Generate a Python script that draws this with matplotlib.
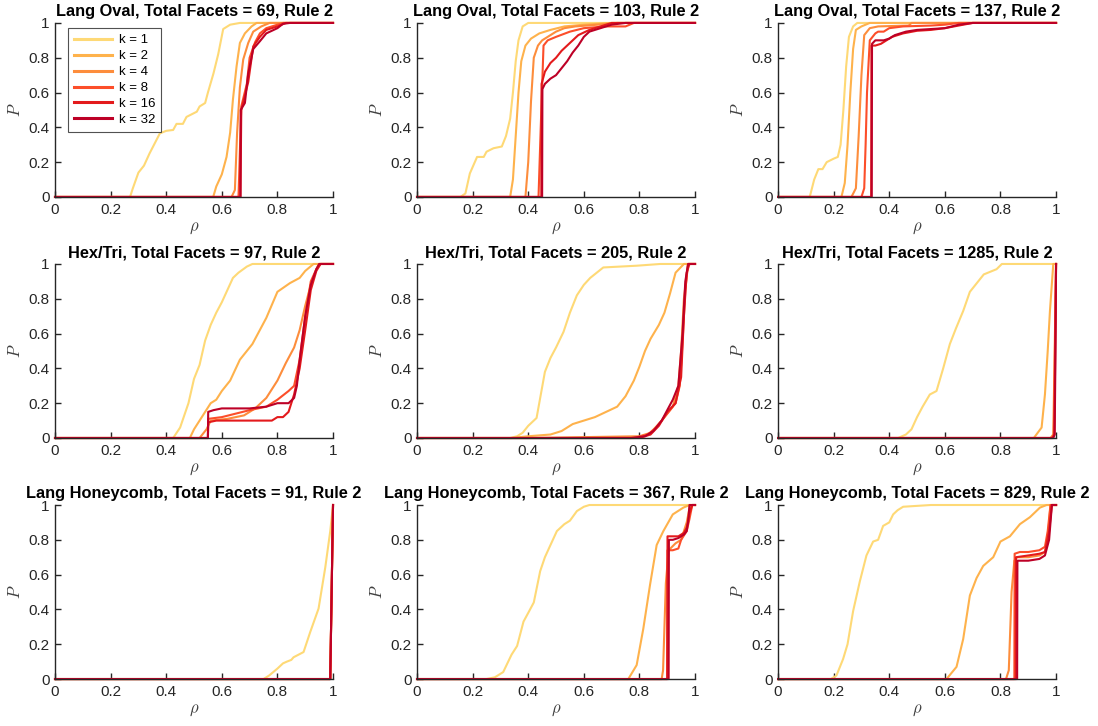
import matplotlib
matplotlib.use("Agg")
import matplotlib.pyplot as plt

plt.rcParams['font.family'] = ['Liberation Sans', 'DejaVu Sans']
plt.rcParams['mathtext.fontset'] = 'cm'

k_values = [1, 2, 4, 8, 16, 32]
colors = ['#fed976', '#feb24c', '#fd8d3c', '#fc4e2a', '#e31a1c', '#bd0026']

titles = [
    'Lang Oval, Total Facets = 69, Rule 2',
    'Lang Oval, Total Facets = 103, Rule 2',
    'Lang Oval, Total Facets = 137, Rule 2',
    'Hex/Tri, Total Facets = 97, Rule 2',
    'Hex/Tri, Total Facets = 205, Rule 2',
    'Hex/Tri, Total Facets = 1285, Rule 2',
    'Lang Honeycomb, Total Facets = 91, Rule 2',
    'Lang Honeycomb, Total Facets = 367, Rule 2',
    'Lang Honeycomb, Total Facets = 829, Rule 2',
]

# each panel: one (rho, P) pair per k, in the order of k_values
oval_69 = [
    ([0.27, 0.28, 0.30, 0.32, 0.34, 0.377, 0.40, 0.425, 0.437, 0.46, 0.473, 0.51, 0.52, 0.54, 0.55, 0.57, 0.587, 0.605, 0.63, 0.665],
     [0, 0.05, 0.14, 0.18, 0.25, 0.365, 0.38, 0.385, 0.42, 0.42, 0.46, 0.49, 0.52, 0.54, 0.60, 0.71, 0.82, 0.965, 0.99, 1.0]),
    ([0.569, 0.58, 0.60, 0.617, 0.63, 0.64, 0.653, 0.665, 0.683, 0.707, 0.725],
     [0, 0.06, 0.13, 0.23, 0.37, 0.56, 0.75, 0.885, 0.94, 0.98, 1.0]),
    ([0.635, 0.647, 0.655, 0.665, 0.677, 0.695, 0.713, 0.742, 0.772],
     [0, 0.04, 0.37, 0.63, 0.79, 0.885, 0.95, 0.98, 1.0]),
    ([0.66, 0.67, 0.69, 0.70, 0.72, 0.737, 0.76, 0.80, 0.82],
     [0, 0.52, 0.65, 0.80, 0.89, 0.94, 0.97, 0.99, 1.0]),
    ([0.667, 0.67, 0.695, 0.713, 0.737, 0.76, 0.80, 0.83],
     [0, 0.50, 0.66, 0.865, 0.92, 0.96, 0.98, 1.0]),
    ([0.667, 0.668, 0.683, 0.695, 0.713, 0.737, 0.76, 0.80, 0.82, 0.845],
     [0, 0.50, 0.54, 0.71, 0.85, 0.895, 0.94, 0.97, 0.995, 1.0]),
]

oval_103 = [
    ([0.156, 0.174, 0.19, 0.216, 0.24, 0.25, 0.275, 0.305, 0.32, 0.335, 0.345, 0.355, 0.365, 0.38, 0.40],
     [0, 0.02, 0.135, 0.23, 0.23, 0.26, 0.28, 0.29, 0.35, 0.45, 0.60, 0.78, 0.90, 0.98, 1.0]),
    ([0.335, 0.345, 0.355, 0.365, 0.375, 0.39, 0.41, 0.44, 0.48, 0.53, 0.60, 0.70],
     [0, 0.10, 0.35, 0.60, 0.78, 0.87, 0.91, 0.94, 0.96, 0.98, 0.99, 1.0]),
    ([0.39, 0.40, 0.41, 0.42, 0.435, 0.45, 0.48, 0.50, 0.53, 0.57, 0.65, 0.72],
     [0, 0.20, 0.55, 0.80, 0.87, 0.90, 0.93, 0.95, 0.97, 0.98, 0.99, 1.0]),
    ([0.437, 0.445, 0.455, 0.47, 0.50, 0.55, 0.60, 0.68, 0.75, 0.78],
     [0, 0.40, 0.87, 0.90, 0.92, 0.95, 0.97, 0.98, 0.98, 1.0]),
    ([0.447, 0.448, 0.46, 0.48, 0.50, 0.52, 0.54, 0.56, 0.58, 0.62, 0.66, 0.70],
     [0, 0.65, 0.72, 0.77, 0.80, 0.84, 0.87, 0.90, 0.93, 0.96, 0.98, 1.0]),
    ([0.45, 0.451, 0.46, 0.48, 0.50, 0.52, 0.54, 0.56, 0.58, 0.60, 0.62, 0.66, 0.70, 0.75],
     [0, 0.62, 0.65, 0.68, 0.70, 0.74, 0.78, 0.83, 0.87, 0.92, 0.95, 0.97, 0.99, 1.0]),
]

oval_137 = [
    ([0.114, 0.13, 0.145, 0.16, 0.175, 0.20, 0.215, 0.225, 0.235, 0.245, 0.255, 0.27, 0.285],
     [0, 0.10, 0.16, 0.16, 0.20, 0.22, 0.23, 0.30, 0.50, 0.75, 0.92, 0.98, 1.0]),
    ([0.228, 0.24, 0.25, 0.26, 0.27, 0.28, 0.30, 0.33],
     [0, 0.08, 0.30, 0.60, 0.85, 0.96, 0.98, 1.0]),
    ([0.264, 0.28, 0.29, 0.30, 0.31, 0.33, 0.36, 0.47, 0.48],
     [0, 0.05, 0.35, 0.70, 0.93, 0.97, 0.98, 0.985, 1.0]),
    ([0.30, 0.31, 0.315, 0.32, 0.33, 0.35, 0.36, 0.38, 0.40, 0.45, 0.55, 0.60, 0.65],
     [0, 0.05, 0.30, 0.60, 0.90, 0.94, 0.95, 0.95, 0.97, 0.98, 0.985, 0.99, 1.0]),
    ([0.335, 0.336, 0.35, 0.37, 0.39, 0.41, 0.45, 0.50, 0.55, 0.60, 0.65, 0.70],
     [0, 0.87, 0.87, 0.88, 0.90, 0.92, 0.94, 0.955, 0.96, 0.97, 0.985, 1.0]),
    ([0.337, 0.338, 0.35, 0.38, 0.40, 0.42, 0.46, 0.50, 0.55, 0.60, 0.65, 0.70],
     [0, 0.88, 0.90, 0.90, 0.91, 0.93, 0.95, 0.96, 0.965, 0.97, 0.99, 1.0]),
]

hextri_97 = [
    ([0.425, 0.45, 0.48, 0.50, 0.52, 0.54, 0.56, 0.58, 0.60, 0.62, 0.64, 0.66, 0.69, 0.71],
     [0, 0.06, 0.20, 0.34, 0.42, 0.56, 0.65, 0.72, 0.78, 0.85, 0.92, 0.95, 0.985, 1.0]),
    ([0.485, 0.50, 0.52, 0.54, 0.56, 0.58, 0.60, 0.63, 0.665, 0.71, 0.76, 0.80, 0.845, 0.88, 0.90, 0.93],
     [0, 0.05, 0.10, 0.15, 0.20, 0.22, 0.27, 0.33, 0.45, 0.54, 0.69, 0.84, 0.89, 0.92, 0.96, 1.0]),
    ([0.52, 0.545, 0.56, 0.62, 0.68, 0.72, 0.76, 0.80, 0.83, 0.86, 0.88, 0.90, 0.92, 0.94, 0.95],
     [0, 0.05, 0.10, 0.11, 0.13, 0.17, 0.23, 0.33, 0.43, 0.52, 0.62, 0.76, 0.88, 0.97, 1.0]),
    ([0.55, 0.551, 0.60, 0.70, 0.76, 0.80, 0.84, 0.86, 0.88, 0.90, 0.92, 0.94, 0.955],
     [0, 0.11, 0.12, 0.16, 0.18, 0.22, 0.27, 0.30, 0.45, 0.70, 0.90, 0.97, 1.0]),
    ([0.55, 0.551, 0.58, 0.70, 0.78, 0.80, 0.82, 0.84, 0.86, 0.88, 0.90, 0.92, 0.94, 0.955],
     [0, 0.09, 0.10, 0.10, 0.10, 0.12, 0.12, 0.15, 0.25, 0.40, 0.62, 0.85, 0.96, 1.0]),
    ([0.55, 0.551, 0.57, 0.60, 0.70, 0.76, 0.80, 0.84, 0.86, 0.87, 0.88, 0.90, 0.92, 0.94, 0.95],
     [0, 0.15, 0.16, 0.17, 0.17, 0.18, 0.20, 0.20, 0.23, 0.30, 0.45, 0.70, 0.88, 0.97, 1.0]),
]

hextri_205 = [
    ([0.335, 0.36, 0.38, 0.40, 0.43, 0.46, 0.48, 0.50, 0.527, 0.55, 0.575, 0.60, 0.623, 0.67, 0.79, 0.875],
     [0, 0.01, 0.03, 0.07, 0.115, 0.38, 0.46, 0.52, 0.61, 0.72, 0.82, 0.88, 0.92, 0.98, 0.99, 1.0]),
    ([0.34, 0.40, 0.48, 0.52, 0.56, 0.60, 0.64, 0.68, 0.72, 0.75, 0.78, 0.80, 0.82, 0.84, 0.87, 0.89, 0.91, 0.93, 0.96],
     [0, 0.01, 0.02, 0.04, 0.08, 0.10, 0.12, 0.15, 0.18, 0.24, 0.33, 0.41, 0.50, 0.57, 0.65, 0.72, 0.83, 0.95, 1.0]),
    ([0.40, 0.80, 0.84, 0.88, 0.92, 0.94, 0.95, 0.96, 0.975],
     [0, 0.01, 0.03, 0.10, 0.18, 0.30, 0.50, 0.80, 1.0]),
    ([0.78, 0.83, 0.86, 0.90, 0.93, 0.945, 0.955, 0.965, 0.975],
     [0, 0.02, 0.06, 0.14, 0.20, 0.30, 0.55, 0.85, 1.0]),
    ([0.80, 0.84, 0.87, 0.90, 0.93, 0.95, 0.96, 0.97, 0.98],
     [0, 0.02, 0.07, 0.15, 0.20, 0.35, 0.70, 0.95, 1.0]),
    ([0.77, 0.82, 0.85, 0.88, 0.90, 0.92, 0.94, 0.955, 0.965, 0.975],
     [0, 0.01, 0.04, 0.10, 0.16, 0.22, 0.30, 0.60, 0.90, 1.0]),
]

hextri_1285 = [
    ([0.432, 0.46, 0.48, 0.50, 0.52, 0.546, 0.57, 0.594, 0.618, 0.64, 0.666, 0.69, 0.72, 0.74, 0.786, 0.805],
     [0, 0.02, 0.05, 0.12, 0.18, 0.25, 0.27, 0.40, 0.54, 0.63, 0.73, 0.84, 0.90, 0.94, 0.97, 1.0]),
    ([0.92, 0.948, 0.96, 0.97, 0.978, 0.99],
     [0, 0.06, 0.25, 0.50, 0.73, 1.0]),
    ([0.98, 0.99, 0.995, 1.0], [0, 0.02, 0.50, 1.0]),
    ([0.985, 0.992, 0.996, 1.0], [0, 0.02, 0.50, 1.0]),
    ([0.988, 0.994, 0.997, 1.0], [0, 0.02, 0.50, 1.0]),
    ([0.99, 0.995, 0.998, 1.0], [0, 0.02, 0.50, 1.0]),
]

honeycomb_91 = [
    ([0.75, 0.77, 0.80, 0.82, 0.834, 0.85, 0.858, 0.894, 0.918, 0.948, 0.972, 0.99, 1.0],
     [0, 0.02, 0.06, 0.09, 0.10, 0.11, 0.125, 0.155, 0.27, 0.405, 0.64, 0.85, 1.0]),
    ([0.99, 1.0], [0, 1.0]),
    ([0.99, 1.0], [0, 1.0]),
    ([0.99, 1.0], [0, 1.0]),
    ([0.99, 1.0], [0, 1.0]),
    ([0.99, 1.0], [0, 1.0]),
]

honeycomb_367 = [
    ([0.25, 0.28, 0.31, 0.34, 0.36, 0.383, 0.40, 0.42, 0.443, 0.46, 0.48, 0.503, 0.53, 0.55, 0.575, 0.60, 0.62],
     [0, 0.01, 0.04, 0.14, 0.19, 0.33, 0.38, 0.44, 0.62, 0.70, 0.77, 0.85, 0.89, 0.91, 0.965, 0.99, 1.0]),
    ([0.76, 0.79, 0.814, 0.838, 0.862, 0.886, 0.92, 0.958, 0.98],
     [0, 0.08, 0.29, 0.54, 0.77, 0.85, 0.946, 0.985, 1.0]),
    ([0.88, 0.885, 0.895, 0.905, 0.93, 0.95, 0.97, 0.98, 0.99],
     [0, 0.05, 0.55, 0.74, 0.78, 0.80, 0.90, 0.98, 1.0]),
    ([0.90, 0.901, 0.92, 0.94, 0.95, 0.97, 0.98, 0.99],
     [0, 0.74, 0.74, 0.75, 0.80, 0.85, 0.92, 1.0]),
    ([0.90, 0.901, 0.92, 0.94, 0.96, 0.97, 0.98, 0.99],
     [0, 0.82, 0.82, 0.82, 0.84, 0.87, 0.95, 1.0]),
    ([0.905, 0.906, 0.92, 0.94, 0.96, 0.97, 0.975, 0.98],
     [0, 0.80, 0.80, 0.81, 0.83, 0.85, 0.90, 1.0]),
]

honeycomb_829 = [
    ([0.19, 0.21, 0.234, 0.25, 0.27, 0.294, 0.318, 0.342, 0.36, 0.378, 0.40, 0.414, 0.43, 0.45, 0.50, 0.55],
     [0, 0.02, 0.115, 0.20, 0.39, 0.56, 0.71, 0.79, 0.80, 0.88, 0.90, 0.946, 0.97, 0.99, 0.995, 1.0]),
    ([0.606, 0.642, 0.666, 0.69, 0.714, 0.738, 0.774, 0.80, 0.834, 0.87, 0.906, 0.942, 0.966],
     [0, 0.07, 0.23, 0.48, 0.58, 0.65, 0.70, 0.79, 0.82, 0.89, 0.93, 0.985, 1.0]),
    ([0.82, 0.83, 0.84, 0.85, 0.86, 0.90, 0.94, 0.96, 0.97, 0.98],
     [0, 0.05, 0.50, 0.68, 0.70, 0.70, 0.71, 0.73, 0.80, 1.0]),
    ([0.85, 0.851, 0.87, 0.90, 0.94, 0.96, 0.97, 0.98],
     [0, 0.72, 0.73, 0.73, 0.74, 0.76, 0.85, 1.0]),
    ([0.855, 0.856, 0.90, 0.94, 0.96, 0.975, 0.985],
     [0, 0.70, 0.71, 0.72, 0.73, 0.85, 1.0]),
    ([0.86, 0.861, 0.90, 0.94, 0.96, 0.975, 0.985],
     [0, 0.68, 0.68, 0.69, 0.71, 0.80, 1.0]),
]

panels = [oval_69, oval_103, oval_137,
          hextri_97, hextri_205, hextri_1285,
          honeycomb_91, honeycomb_367, honeycomb_829]

tick_vals = [0, 0.2, 0.4, 0.6, 0.8, 1]
tick_labels = ['0', '0.2', '0.4', '0.6', '0.8', '1']

fig = plt.figure(figsize=(10.98, 7.26), dpi=100)

lefts = [0.0501, 0.3798, 0.7086]
bottoms = [0.7287, 0.3967, 0.0647]
width, height = 0.2532, 0.2397
axis_col = '#262626'

for i, (title, curves) in enumerate(zip(titles, panels)):
    ax = fig.add_axes([lefts[i % 3], bottoms[i // 3], width, height])
    for k, col, (rho, p) in zip(k_values, colors, curves):
        # pad each curve out to the full rho range
        xs = [0] + list(rho) + [1]
        ys = [0] + list(p) + [1]
        ax.plot(xs, ys, color=col, lw=1.5, clip_on=False, label=f'k = {k}')

    ax.set_xlim(0, 1)
    ax.set_ylim(0, 1)
    ax.set_xticks(tick_vals)
    ax.set_xticklabels(tick_labels)
    ax.set_yticks(tick_vals)
    ax.set_yticklabels(tick_labels)
    ax.tick_params(direction='in', length=4, width=1, colors=axis_col,
                   labelsize=11, labelcolor='#262626', pad=4)
    for side in ['top', 'right']:
        ax.spines[side].set_visible(False)
    for side in ['left', 'bottom']:
        ax.spines[side].set_color(axis_col)
        ax.spines[side].set_linewidth(1.0)
    ax.set_title(title, fontsize=11.8, fontweight='bold', pad=5)
    ax.set_xlabel(r'$\rho$', fontsize=12, labelpad=3, color='#404040')
    ax.set_ylabel(r'$P$', fontsize=12, labelpad=4, color='#404040')

    if i == 0:
        leg = ax.legend(loc='upper left', bbox_to_anchor=(0.047, 0.97),
                        borderaxespad=0, fontsize=9.5, frameon=True,
                        fancybox=False, handlelength=2.9, borderpad=0.45,
                        labelspacing=0.28, handletextpad=0.5)
        leg.get_frame().set_edgecolor('#262626')
        leg.get_frame().set_linewidth(0.8)
        for line in leg.get_lines():
            line.set_linewidth(2.2)

fig.savefig('out.png', dpi=100)
